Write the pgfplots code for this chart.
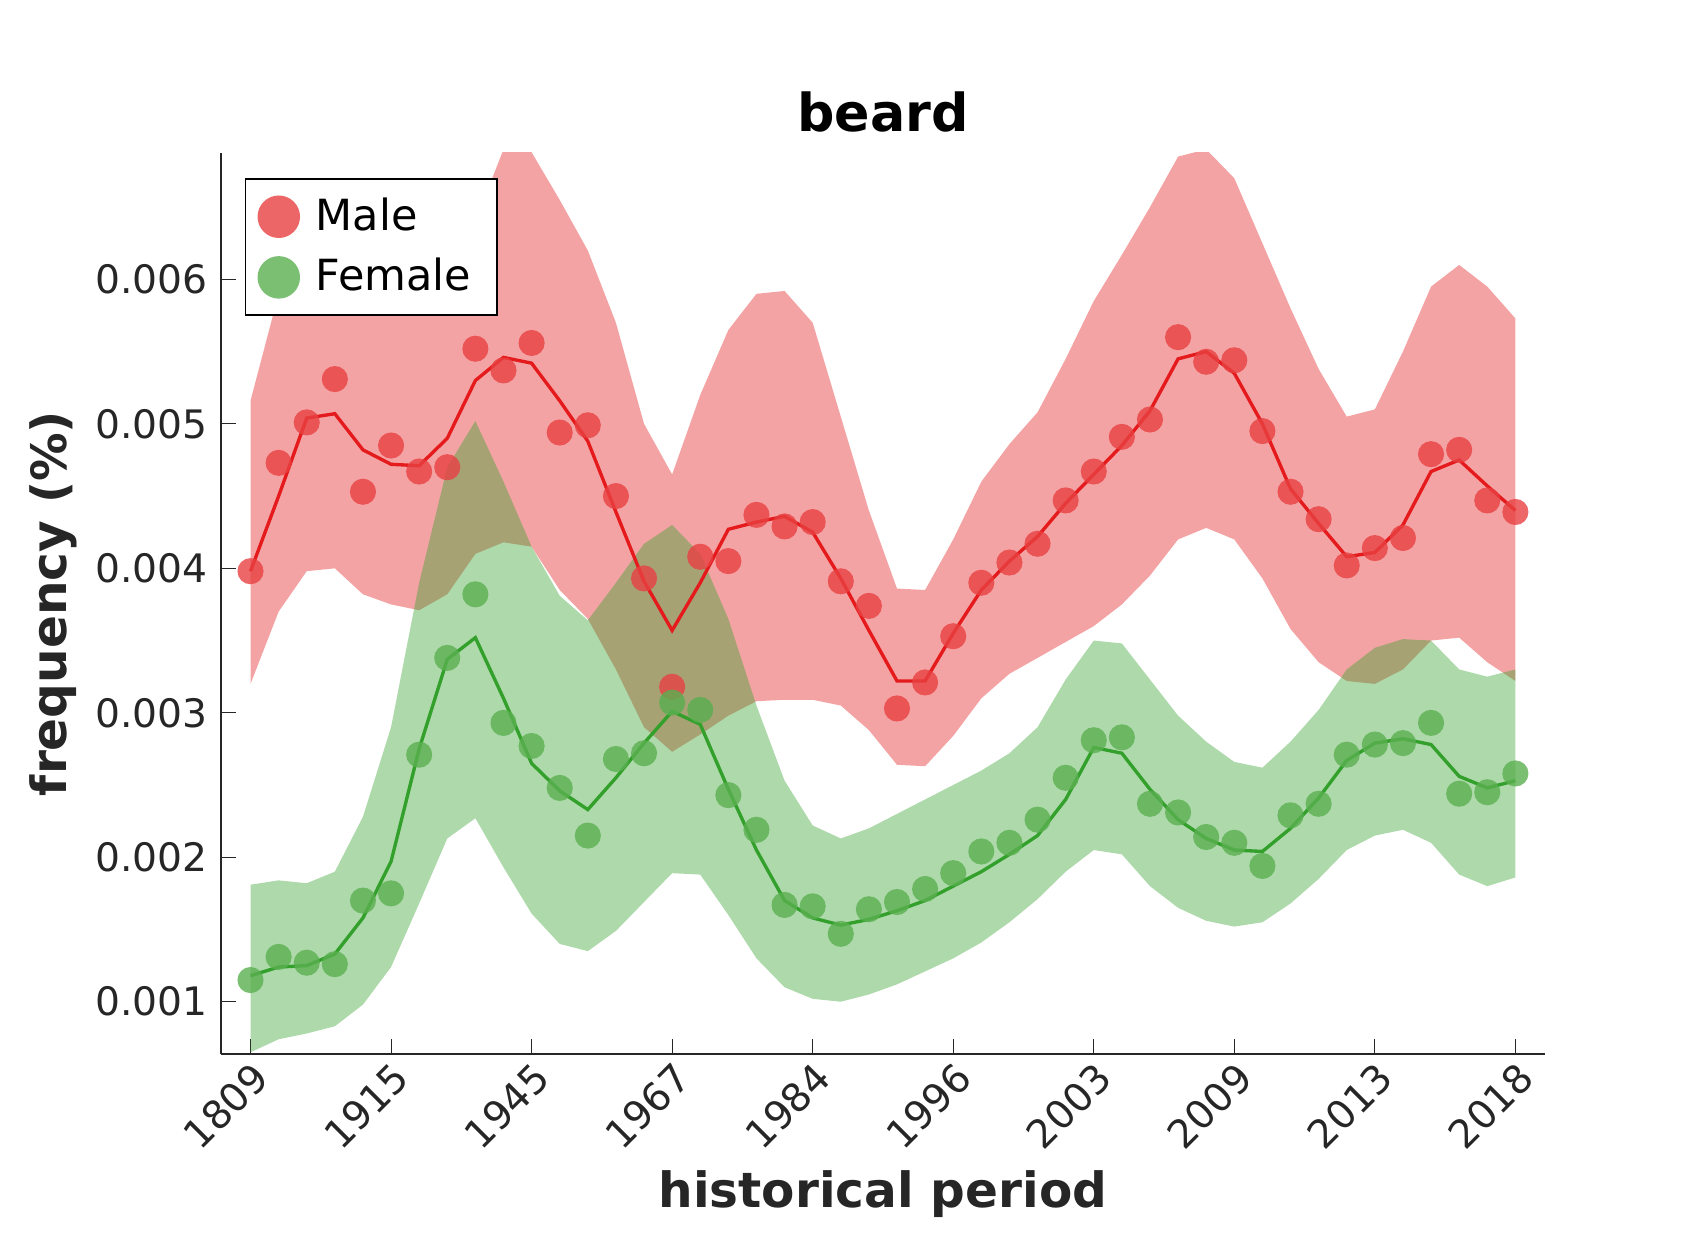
\documentclass[border=0pt]{standalone}
\usepackage{pgfplots}
\pgfplotsset{compat=1.18}
\usepgfplotslibrary{fillbetween}
\usepackage{fontspec}
\setmainfont{DejaVu Sans}
\definecolor{mred}{RGB}{228,26,28}
\definecolor{mgreen}{RGB}{51,160,44}
\definecolor{dred}{RGB}{232,64,66}
\definecolor{dgreen}{RGB}{90,175,80}
\definecolor{tk}{RGB}{38,38,38}
\pgfplotstableread{
x md ml mu mlo fd fl fu flo
0 3.98 3.98 5.16 3.20 1.15 1.18 1.81 0.65
1 4.73 4.50 5.90 3.70 1.31 1.24 1.84 0.74
2 5.01 5.04 6.25 3.98 1.27 1.25 1.82 0.78
3 5.31 5.07 6.10 4.00 1.26 1.33 1.90 0.83
4 4.53 4.82 5.98 3.82 1.70 1.58 2.28 0.98
5 4.85 4.72 5.83 3.75 1.75 1.97 2.90 1.24
6 4.67 4.71 5.85 3.71 2.71 2.75 3.90 1.68
7 4.70 4.90 6.10 3.82 3.38 3.37 4.70 2.13
8 5.52 5.30 6.40 4.10 3.82 3.52 5.02 2.27
9 5.37 5.46 6.90 4.18 2.93 3.10 4.60 1.93
10 5.56 5.42 6.88 4.15 2.77 2.65 4.15 1.61
11 4.94 5.16 6.55 3.85 2.48 2.46 3.81 1.40
12 4.99 4.88 6.20 3.65 2.15 2.33 3.64 1.35
13 4.50 4.39 5.70 3.30 2.68 2.55 3.90 1.49
14 3.93 3.91 5.00 2.90 2.72 2.79 4.17 1.69
15 3.18 3.57 4.65 2.73 3.07 3.01 4.30 1.89
16 4.08 3.90 5.20 2.85 3.02 2.92 4.10 1.88
17 4.05 4.27 5.65 2.98 2.43 2.47 3.65 1.60
18 4.37 4.32 5.90 3.08 2.19 2.05 3.05 1.30
19 4.29 4.36 5.92 3.09 1.67 1.70 2.53 1.10
20 4.32 4.25 5.70 3.09 1.66 1.58 2.22 1.02
21 3.91 3.93 5.05 3.05 1.47 1.53 2.13 1.00
22 3.74 3.57 4.40 2.88 1.64 1.57 2.20 1.05
23 3.03 3.22 3.86 2.64 1.69 1.63 2.30 1.12
24 3.21 3.22 3.85 2.63 1.78 1.70 2.40 1.21
25 3.53 3.55 4.20 2.84 1.89 1.80 2.50 1.30
26 3.90 3.85 4.60 3.10 2.04 1.90 2.60 1.41
27 4.04 4.05 4.86 3.27 2.10 2.02 2.72 1.55
28 4.17 4.22 5.08 3.38 2.26 2.15 2.90 1.71
29 4.47 4.45 5.45 3.49 2.55 2.40 3.23 1.90
30 4.67 4.65 5.85 3.60 2.81 2.76 3.50 2.05
31 4.91 4.85 6.17 3.75 2.83 2.72 3.48 2.02
32 5.03 5.09 6.50 3.95 2.37 2.47 3.23 1.80
33 5.60 5.45 6.85 4.20 2.31 2.26 2.98 1.65
34 5.43 5.50 6.90 4.28 2.14 2.13 2.80 1.56
35 5.44 5.35 6.70 4.20 2.10 2.05 2.66 1.52
36 4.95 5.00 6.25 3.93 1.94 2.04 2.62 1.55
37 4.53 4.55 5.80 3.58 2.29 2.20 2.80 1.68
38 4.34 4.31 5.38 3.35 2.37 2.41 3.02 1.85
39 4.02 4.08 5.05 3.22 2.71 2.67 3.30 2.05
40 4.14 4.11 5.10 3.20 2.78 2.79 3.45 2.15
41 4.21 4.30 5.50 3.30 2.79 2.82 3.51 2.19
42 4.79 4.67 5.95 3.50 2.93 2.78 3.50 2.10
43 4.82 4.75 6.10 3.52 2.44 2.56 3.30 1.88
44 4.47 4.57 5.95 3.35 2.45 2.48 3.25 1.80
45 4.39 4.40 5.73 3.22 2.58 2.53 3.30 1.86
}\data
\begin{document}
\begin{tikzpicture}
\begin{axis}[scale only axis, width=12.46cm, height=8.48cm,
 xmin=-1.05, xmax=46.05, ymin=0.638, ymax=6.875,
 axis lines*=left, axis line style={tk}, tick style={tk},
 tick align=inside, major tick length=4pt,
 xtick={0,5,...,45}, xticklabels={1809,1915,1945,1967,1984,1996,2003,2009,2013,2018},
 xticklabel style={rotate=45, anchor=north east, inner sep=1pt, font=\fontsize{10.5}{12}\selectfont, text=tk},
 ytick={1,2,3,4,5,6}, yticklabels={0.001,0.002,0.003,0.004,0.005,0.006},
 yticklabel style={font=\fontsize{10.5}{12}\selectfont, text=tk},
 xlabel={\bfseries historical period}, ylabel={\bfseries frequency (\%)},
 label style={font=\fontsize{13}{15}\selectfont, text=tk},
 ylabel style={yshift=-2pt},
 title={\bfseries beard}, title style={font=\fontsize{14}{16}\selectfont, yshift=-4pt},
 legend style={at={(0.018,0.972)}, anchor=north west, draw=black, font=\fontsize{11.5}{13}\selectfont, row sep=2pt, inner sep=3pt, nodes={inner xsep=4pt}},
 legend cell align=left,
 legend image code/.code={\fill[#1] (0.3cm,0cm) circle (0.2cm);},
]
\addplot[name path=mu, draw=none, forget plot] table[x=x,y=mu]{\data};
\addplot[name path=mlo, draw=none, forget plot] table[x=x,y=mlo]{\data};
\addplot[fill=mred, fill opacity=0.4, draw=none, forget plot] fill between[of=mu and mlo];
\addplot[name path=fu, draw=none, forget plot] table[x=x,y=fu]{\data};
\addplot[name path=flo, draw=none, forget plot] table[x=x,y=flo]{\data};
\addplot[fill=mgreen, fill opacity=0.4, draw=none, forget plot] fill between[of=fu and flo];
\addplot[only marks, mark=*, mark size=3.5pt, color=dred, fill=dred, fill opacity=0.8, draw opacity=0] table[x=x,y=md]{\data};
\addlegendentry{Male}
\addplot[only marks, mark=*, mark size=3.5pt, color=dgreen, fill=dgreen, fill opacity=0.8, draw opacity=0] table[x=x,y=fd]{\data};
\addlegendentry{Female}
\addplot[mred, line width=0.9pt, forget plot] table[x=x,y=ml]{\data};
\addplot[mgreen, line width=0.9pt, forget plot] table[x=x,y=fl]{\data};
\end{axis}
\path[use as bounding box] (-2.08cm,-1.8cm) rectangle (13.92cm,9.92cm);
\end{tikzpicture}
\end{document}
